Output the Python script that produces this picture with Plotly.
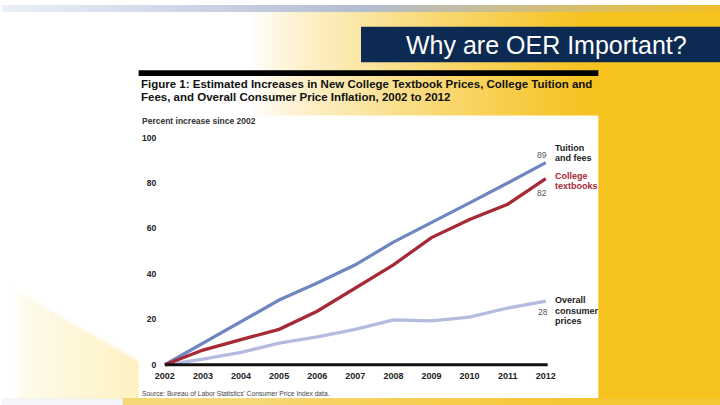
import zlib, struct, base64
import numpy as np
import plotly.graph_objects as go

years = [2002, 2003, 2004, 2005, 2006, 2007, 2008, 2009, 2010, 2011, 2012]
tuition = [0, 9.5, 19.3, 28.5, 36, 44, 54, 62.5, 71.3, 80, 89]
textbooks = [0, 6.5, 11.1, 15.6, 23.6, 33.8, 44, 56, 64, 70.7, 82]
cpi = [0, 2.5, 5.5, 9.5, 12.3, 15.6, 19.8, 19.3, 21, 25, 28]
y_ticks = [0, 20, 40, 60, 80, 100]

W, H = 720, 405
def px(x): return x / W
def py(y): return 1 - y / H

# ---------- background gradient image ----------
h, w = 405, 720
yy, xx = np.mgrid[0:h, 0:w].astype(float)
X = xx
Y = yy
white = np.array([255, 255, 255.0])
gold = np.array([246, 194, 30.0])
t = np.clip((X - 250) / 340, 0, 1) ** 0.8
img = white[None, None, :] * (1 - t[..., None]) + gold[None, None, :] * t[..., None]
# pale yellow patch bottom-left
ytop = 285 + (X - 12) * 0.58
edge = np.clip((Y - ytop) / 6, 0, 1) * np.clip((X - 12) / 6, 0, 1)
inpatch = (X >= 12) & (X <= 150) & (Y <= 398)
pa = np.where(inpatch, edge * (0.10 + 0.30 * np.clip((X - 12) / 125, 0, 1)), 0)
img = img * (1 - pa[..., None]) + np.array([253, 222, 100.0])[None, None, :] * pa[..., None]
# bottom strip
bs = (Y > 397) & (X > 120)
img[bs] = img[bs] * 0.3 + np.array([245, 200, 60.0]) * 0.7
bsl = (Y > 397) & (X <= 120)
img[bsl] = img[bsl] * 0.6 + np.array([225, 230, 245.0]) * 0.4
# top band
tb = Y < 7
tt = np.clip(X / 720, 0, 1)
band_l = np.array([235, 240, 250.0]); band_m = np.array([178, 188, 210.0]); band_r = np.array([240, 192, 40.0])
bandc = np.where(tt[..., None] < 0.5,
                 band_l + (band_m - band_l) * (tt[..., None] / 0.5),
                 band_m + (band_r - band_m) * ((tt[..., None] - 0.5) / 0.5))
img[tb] = bandc[tb]
arr = np.clip(img, 0, 255).astype(np.uint8)

def png_bytes(a):
    hh, ww, _ = a.shape
    raw = b''.join(b'\x00' + a[i].tobytes() for i in range(hh))
    def chunk(tag, data):
        c = struct.pack('>I', len(data)) + tag + data
        return c + struct.pack('>I', zlib.crc32(tag + data) & 0xffffffff)
    return (b'\x89PNG\r\n\x1a\n' + chunk(b'IHDR', struct.pack('>IIBBBBB', ww, hh, 8, 2, 0, 0, 0))
            + chunk(b'IDAT', zlib.compress(raw, 9)) + chunk(b'IEND', b''))

bg_src = 'data:image/png;base64,' + base64.b64encode(png_bytes(arr)).decode()

FONT = "Liberation Sans, Arial, sans-serif"

fig = go.Figure()
fig.add_trace(go.Scatter(x=years, y=cpi, mode='lines', line=dict(color='#b3bbdf', width=3.3), hoverinfo='skip'))
fig.add_trace(go.Scatter(x=years, y=tuition, mode='lines', line=dict(color='#6f87c0', width=3.3), hoverinfo='skip'))
fig.add_trace(go.Scatter(x=years, y=textbooks, mode='lines', line=dict(color='#a62a36', width=3.3), hoverinfo='skip'))

# axes: 2002 at px 163.3, 38.2 px/year; 0 at py 364.3, 2.3 px/unit
x0, x1 = 2001.8, 2012.3
xl = 163.3 - (2002 - x0) * 38.2
xr = 163.3 + (x1 - 2002) * 38.2
y0, y1 = -2, 100
yb = 364.3 + 2 * 2.3
yt = 364.3 - 100 * 2.3

fig.update_layout(
    width=W, height=H, margin=dict(l=0, r=0, t=0, b=0),
    paper_bgcolor='white', plot_bgcolor='rgba(0,0,0,0)',
    showlegend=False,
    xaxis=dict(domain=[px(xl), px(xr)], range=[x0, x1], tickvals=years,
               ticktext=[f'<b>{v}</b>' for v in years],
               showgrid=False, zeroline=False, showline=False, ticks='',
               tickfont=dict(family=FONT, size=9, color='#222'), fixedrange=True),
    yaxis=dict(domain=[py(yb), py(yt)], range=[y0, y1], tickvals=y_ticks,
               ticktext=[f'<b>{v}</b>' for v in y_ticks],
               showgrid=False, zeroline=False, showline=False, ticks='',
               tickfont=dict(family=FONT, size=8.5, color='#222'), fixedrange=True),
    images=[dict(source=bg_src, xref='paper', yref='paper', x=0, y=1, sizex=1, sizey=1,
                 sizing='stretch', layer='below', xanchor='left', yanchor='top')],
)

shapes = [
    dict(type='rect', xref='paper', yref='paper', x0=px(137), x1=px(598), y0=py(398), y1=py(112),
         fillcolor='white', line=dict(width=0), layer='below'),
    dict(type='rect', xref='paper', yref='paper', x0=px(137), x1=px(598), y0=py(72), y1=py(66),
         fillcolor='black', line=dict(width=0), layer='below'),
    dict(type='rect', xref='paper', yref='paper', x0=px(360), x1=px(720), y0=py(58), y1=py(22),
         fillcolor='#0c2a52', line=dict(width=0), layer='below'),
    dict(type='line', xref='x', yref='y', x0=2002, x1=2012.05, y0=0, y1=0,
         line=dict(color='#111', width=3), layer='above'),
]
fig.update_layout(shapes=shapes)

ann = []
def txt(x, y, s, size, color='#111', bold=False, xanchor='left', yanchor='middle'):
    ann.append(dict(xref='paper', yref='paper', x=px(x), y=py(y), text=(f'<b>{s}</b>' if bold else s),
                    showarrow=False, xanchor=xanchor, yanchor=yanchor,
                    font=dict(family=FONT, size=size, color=color)))

txt(546, 41, 'Why are OER Important?', 25, 'white', xanchor='center')
txt(137, 80, 'Figure 1: Estimated Increases in New College Textbook Prices, College Tuition and', 11.5, '#111', True)
txt(137, 93, 'Fees, and Overall Consumer Price Inflation, 2002 to 2012', 11.5, '#111', True)
txt(138, 117, 'Percent increase since 2002', 8.5, '#333', True)
txt(138, 393, "Source: Bureau of Labor Statistics' Consumer Price Index data.", 6.7, '#444')
# series labels
txt(549, 152, '89', 8.5, '#555', xanchor='right')
txt(553, 145, 'Tuition', 9, '#222', True)
txt(553, 155, 'and fees', 9, '#222', True)
txt(553, 173, 'College', 9, '#a62a36', True)
txt(553, 183, 'textbooks', 9, '#a62a36', True)
txt(549, 190, '82', 8.5, '#555', xanchor='right')
txt(553, 299, 'Overall', 9, '#222', True)
txt(553, 310, 'consumer', 9, '#222', True)
txt(553, 320, 'prices', 9, '#222', True)
txt(550, 311, '28', 8.5, '#555', xanchor='right')
fig.update_layout(annotations=ann)

post = ("document.body.style.margin='0';document.body.style.padding='0';"
        "document.body.style.overflow='hidden';"
        "var d=document.getElementsByClassName('plotly-graph-div')[0];"
        "d.style.position='fixed';d.style.top='0px';d.style.left='0px';")
fig.write_html("out.html", config={'displayModeBar': False}, post_script=post)
